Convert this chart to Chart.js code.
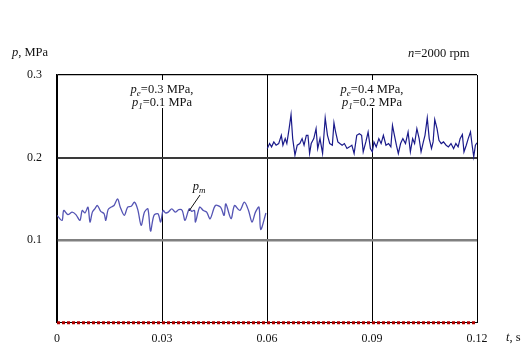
<!DOCTYPE html>
<html>
<head>
<meta charset="utf-8">
<script src="https://cdn.jsdelivr.net/npm/chart.js@4"></script>
<style>
  html, body { margin: 0; padding: 0; background: #fff; }
  #wrap { width: 521px; height: 345px; }
</style>
</head>
<body>
<div id="wrap"><canvas id="myChart" width="521" height="345"></canvas></div>
<script>
// time axis ticks (s) and pressure ticks (MPa)
const timeTicks = [0, 0.03, 0.06, 0.09, 0.12];
const pressureTicks = [0, 0.1, 0.2, 0.3];

// pe = 0.3 MPa, p1 = 0.1 MPa
const times1 = [0, 0.00144, 0.00192, 0.0031, 0.00433, 0.0054, 0.00654, 0.00721, 0.008, 0.00885,
    0.00942, 0.0101, 0.0108, 0.01154, 0.0125, 0.01346, 0.01394, 0.0146, 0.01538, 0.0163,
    0.01731, 0.01808, 0.01923, 0.02019, 0.0212, 0.02212, 0.02308, 0.02404, 0.025, 0.02596,
    0.02673, 0.02769, 0.02885, 0.02962, 0.0303, 0.031, 0.03179, 0.03279, 0.03379, 0.0348,
    0.03578, 0.03658, 0.03777, 0.0385, 0.03927, 0.03957, 0.04076, 0.0418, 0.04276, 0.04375,
    0.04525, 0.04674, 0.04774, 0.04824, 0.04973, 0.05073, 0.05223, 0.05353, 0.05472, 0.05572,
    0.0567, 0.05771, 0.05821, 0.0597];
const pressure1 = [0.130, 0.124, 0.136, 0.131, 0.134, 0.131, 0.124, 0.136, 0.133, 0.140,
    0.122, 0.134, 0.138, 0.142, 0.135, 0.132, 0.124, 0.137, 0.140, 0.142,
    0.150, 0.140, 0.130, 0.140, 0.141, 0.146, 0.137, 0.118, 0.134, 0.138,
    0.111, 0.130, 0.132, 0.122, 0.136, 0.133, 0.134, 0.138, 0.134, 0.137,
    0.136, 0.124, 0.138, 0.135, 0.136, 0.122, 0.140, 0.136, 0.134, 0.126,
    0.142, 0.140, 0.130, 0.144, 0.126, 0.142, 0.136, 0.146, 0.136, 0.122,
    0.134, 0.140, 0.113, 0.133];

// pe = 0.4 MPa, p1 = 0.2 MPa
const times2 = [0.06009, 0.06074, 0.0613, 0.06195, 0.0626, 0.06334, 0.06409, 0.06455, 0.0652, 0.06567,
    0.06632, 0.06687, 0.06734, 0.06799, 0.06864, 0.06938, 0.07003, 0.07059, 0.07124, 0.0717,
    0.07217, 0.07263, 0.07337, 0.07402, 0.07449, 0.07514, 0.07588, 0.07663, 0.07728, 0.07793,
    0.07867, 0.07913, 0.0796, 0.08025, 0.08081, 0.08146, 0.08211, 0.08285, 0.08359, 0.08424,
    0.08489, 0.08564, 0.08638, 0.08703, 0.08749, 0.08824, 0.08889, 0.08954, 0.09009, 0.09056,
    0.09121, 0.09195, 0.0926, 0.09325, 0.09399, 0.09474, 0.09539, 0.09585, 0.09641, 0.09697,
    0.09752, 0.09817, 0.09882, 0.09957, 0.10031, 0.10096, 0.10161, 0.10217, 0.10282, 0.10347,
    0.10402, 0.10467, 0.10514, 0.10579, 0.10635, 0.107, 0.10746, 0.10793, 0.10858, 0.10913,
    0.10978, 0.11043, 0.11118, 0.11183, 0.11257, 0.11331, 0.11396, 0.11461, 0.11517, 0.11582,
    0.11628, 0.11693, 0.11749, 0.11814, 0.11861, 0.11907, 0.11954, 0.12];
const pressure2 = [0.211, 0.217, 0.213, 0.219, 0.215, 0.217, 0.227, 0.215, 0.223, 0.217,
    0.235, 0.252, 0.223, 0.203, 0.215, 0.217, 0.223, 0.215, 0.227, 0.227,
    0.205, 0.217, 0.223, 0.235, 0.211, 0.223, 0.205, 0.248, 0.227, 0.217,
    0.215, 0.242, 0.231, 0.219, 0.217, 0.215, 0.217, 0.211, 0.213, 0.215,
    0.205, 0.227, 0.229, 0.227, 0.207, 0.219, 0.231, 0.211, 0.207, 0.219,
    0.213, 0.223, 0.217, 0.227, 0.215, 0.217, 0.213, 0.239, 0.227, 0.215,
    0.205, 0.217, 0.223, 0.217, 0.231, 0.207, 0.223, 0.217, 0.235, 0.223,
    0.207, 0.219, 0.227, 0.248, 0.223, 0.211, 0.219, 0.246, 0.235, 0.221,
    0.217, 0.219, 0.215, 0.213, 0.217, 0.211, 0.217, 0.213, 0.223, 0.228,
    0.207, 0.215, 0.223, 0.231, 0.215, 0.201, 0.215, 0.218];

// dotted line lying on the zero axis
const zeroTimes = [0, 0.12];
const zeroValues = [0, 0];

const SERIF = '"Liberation Serif", "Times New Roman", serif';

function toPoints(xs, ys) {
    return xs.map((x, i) => ({ x: x, y: ys[i] }));
}

// draws a line of text made of parts (italic / subscript), centered on cx
function drawRich(ctx, parts, cx, y) {
    const fontOf = p => (p.it ? 'italic ' : '') + (p.sub ? '9px ' : '12.5px ') + SERIF;
    let w = 0;
    parts.forEach(p => { ctx.font = fontOf(p); w += ctx.measureText(p.t).width; });
    let x = cx - w / 2;
    ctx.textAlign = 'left';
    ctx.textBaseline = 'alphabetic';
    parts.forEach(p => {
        ctx.font = fontOf(p);
        ctx.fillText(p.t, x, y + (p.sub ? 3 : 0));
        x += ctx.measureText(p.t).width;
    });
    return w;
}

const labelsPlugin = {
    id: 'labels',
    afterDraw(chart) {
        const ctx = chart.ctx;
        const xs = chart.scales.x;
        ctx.save();
        ctx.fillStyle = '#111';

        // annotation boxes
        const notes = [
            { x: 0.03, a: '=0.3 MPa,', b: '=0.1 MPa' },
            { x: 0.09, a: '=0.4 MPa,', b: '=0.2 MPa' }
        ];
        notes.forEach(n => {
            const cx = xs.getPixelForValue(n.x);
            ctx.fillStyle = '#fff';
            ctx.fillRect(cx - 36, 80, 72, 28);
            ctx.fillStyle = '#111';
            drawRich(ctx, [{ t: 'p', it: true }, { t: 'e', it: true, sub: true }, { t: n.a }], cx, 93);
            drawRich(ctx, [{ t: 'p', it: true }, { t: '1', it: true, sub: true }, { t: n.b }], cx, 106);
        });

        // axis captions
        ctx.textAlign = 'left';
        ctx.font = 'italic 12.5px ' + SERIF;
        ctx.fillText('p', 12, 56);
        let w = ctx.measureText('p').width;
        ctx.font = '12.5px ' + SERIF;
        ctx.fillText(', MPa', 12 + w, 56);

        ctx.font = 'italic 12.5px ' + SERIF;
        ctx.fillText('n', 408, 57);
        w = ctx.measureText('n').width;
        ctx.font = '12.5px ' + SERIF;
        ctx.fillText('=2000 rpm', 408 + w, 57);

        ctx.font = 'italic 12.5px ' + SERIF;
        ctx.fillText('t', 506, 341);
        w = ctx.measureText('t').width;
        ctx.font = '12.5px ' + SERIF;
        ctx.fillText(', s', 506 + w, 341);

        // p_m label with leader line
        drawRich(ctx, [{ t: 'p', it: true }, { t: 'm', it: true, sub: true }], 199, 190);
        ctx.strokeStyle = '#111';
        ctx.lineWidth = 1;
        ctx.beginPath();
        ctx.moveTo(200, 195);
        ctx.lineTo(189, 211);
        ctx.stroke();
        ctx.restore();
    }
};

const hGrid = { 0: ['#000', 1], 0.1: ['#808080', 2.5], 0.2: ['#3a3a3a', 2], 0.3: ['#000', 1.2] };

const config = {
    type: 'line',
    data: {
        datasets: [{
            data: toPoints(times1, pressure1),
            borderColor: '#5454b4',
            borderWidth: 1.3,
            tension: 0.3
        }, {
            data: toPoints(times2, pressure2),
            borderColor: '#1a1a8a',
            borderWidth: 1.2
        }, {
            data: toPoints(zeroTimes, zeroValues),
            borderColor: '#b00000',
            borderWidth: 3,
            borderDash: [3, 2],
            clip: false
        }]
    },
    options: {
        responsive: false,
        animation: false,
        events: [],
        elements: { point: { radius: 0 }, line: { tension: 0 } },
        layout: { padding: { left: 0, right: 44, top: 75, bottom: 0 } },
        plugins: { legend: { display: false }, tooltip: { enabled: false } },
        scales: {
            x: {
                type: 'linear',
                min: 0,
                max: 0.12,
                afterBuildTicks: scale => { scale.ticks = timeTicks.map(v => ({ value: v })); },
                afterFit: scale => { scale.height = 22; },
                ticks: {
                    padding: 9,
                    color: '#111',
                    font: { family: SERIF, size: 12 },
                    callback: v => String(v)
                },
                grid: { color: '#000', lineWidth: 1, drawTicks: false },
                border: { color: '#000', width: 1 }
            },
            y: {
                min: 0,
                max: 0.3,
                afterBuildTicks: scale => { scale.ticks = pressureTicks.map(v => ({ value: v })); },
                afterFit: scale => { scale.width = 57; },
                ticks: {
                    padding: 15,
                    color: '#111',
                    font: { family: SERIF, size: 12 },
                    callback: v => (v === 0 ? '' : String(v))
                },
                grid: {
                    drawTicks: false,
                    color: c => (hGrid[c.tick.value] || ['#000'])[0],
                    lineWidth: c => (hGrid[c.tick.value] || ['#000', 1])[1]
                },
                border: { color: '#000', width: 1.5 }
            }
        }
    },
    plugins: [labelsPlugin]
};

const ctx = document.getElementById('myChart').getContext('2d');
const myChart = new Chart(ctx, config);
</script>
</body>
</html>
